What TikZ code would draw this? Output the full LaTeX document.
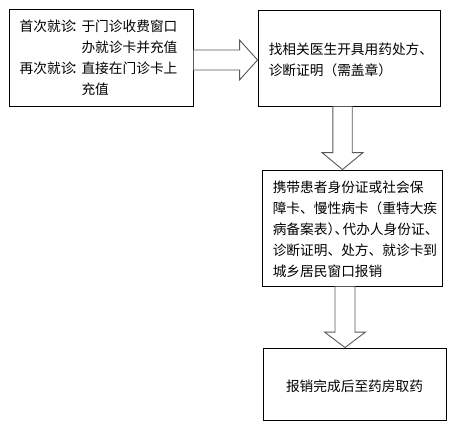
\documentclass[tikz,border=0pt]{standalone}
\usepackage{fontspec}
\setmainfont{Noto Sans CJK SC}
\usetikzlibrary{calc}
\begin{document}
\begin{tikzpicture}[x=1pt,y=-1pt,
  box/.style={draw=black,line width=0.9pt,fill=white,inner sep=0pt},
  txt/.style={inner sep=0pt,font=\fontsize{13.7}{21}\selectfont,align=left},
  blk/.style={draw=black!65,line width=0.9pt,fill=white,line join=miter}]
\useasboundingbox[fill=white] (0,0) rectangle (464,431);
\node[box,minimum width=184,minimum height=97] (b1) at (101,57.5) {};
\node[box,minimum width=182,minimum height=96] (b2) at (349,58) {};
\node[box,minimum width=180,minimum height=116] (b3) at (352,228) {};
\node[box,minimum width=183,minimum height=72] (b4) at (354.5,384) {};
% texts
\node[txt,anchor=west] (t1) at ($(b1.west)+(11,0)$)
  {首次就诊\makebox[7pt]{：}于门诊收费窗口\\
   \hphantom{首次就诊}\makebox[7pt]{}办就诊卡并充值\\
   再次就诊\makebox[7pt]{：}直接在门诊卡上\\
   \hphantom{首次就诊}\makebox[7pt]{}充值};
\node[txt,anchor=west] (t2) at ($(b2.west)+(11,1.5)$)
  {找相关医生开具用药处方、\\诊断证明（需盖章）};
\node[txt,anchor=west] (t3) at ($(b3.west)+(11,1)$)
  {携带患者身份证或社会保\\障卡、慢性病卡（重特大疾\\病备案表\makebox[7pt][l]{）}\makebox[8pt][l]{、}代办人身份证、\\诊断证明、处方、就诊卡到\\城乡居民窗口报销};
\node[txt] (t4) at ($(b4.center)+(0,2)$)
  {报销完成后至药房取药};
% right arrow
\coordinate (r0) at (b1.east |- 0,60);
\coordinate (r1) at (b2.west |- 0,60);
\draw[blk] ($(r0)+(0,-10)$) -- ($(r1)+(-18,-10)$) -- ($(r1)+(-18,-20)$) -- (r1)
  -- ($(r1)+(-18,20)$) -- ($(r1)+(-18,10)$) -- ($(r0)+(0,10)$) -- cycle;
% down arrow 1
\coordinate (d0) at (b2.south -| 342.5,0);
\coordinate (d1) at (b3.north -| 342.5,0);
\draw[blk] ($(d0)+(-9.7,0)$) -- ($(d1)+(-9.7,-17)$) -- ($(d1)+(-20.5,-17)$) -- (d1)
  -- ($(d1)+(20.5,-17)$) -- ($(d1)+(9.7,-17)$) -- ($(d0)+(9.7,0)$) -- cycle;
% down arrow 2
\coordinate (e0) at (b3.south -| 345,0);
\coordinate (e1) at (b4.north -| 345,0);
\draw[blk] ($(e0)+(-10,0)$) -- ($(e1)+(-10,-15.5)$) -- ($(e1)+(-20.5,-15.5)$) -- (e1)
  -- ($(e1)+(20.5,-15.5)$) -- ($(e1)+(10,-15.5)$) -- ($(e0)+(10,0)$) -- cycle;
\end{tikzpicture}
\end{document}
